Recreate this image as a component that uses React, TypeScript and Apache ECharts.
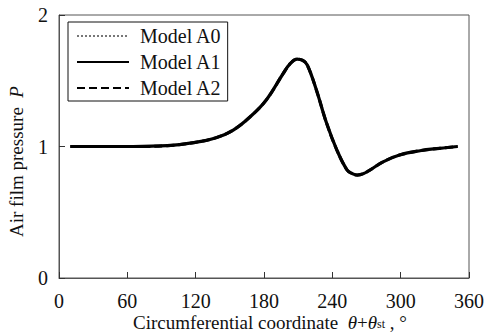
import React, { useEffect, useRef } from "react";
import * as echarts from "echarts";

const xTickValues = [0, 60, 120, 180, 240, 300, 360];
const yTickValues = [0, 1, 2];
const seriesNames = ["Model A0", "Model A1", "Model A2"];
const angleDeg = [10, 40, 65, 95, 118, 138, 153, 168, 182, 197, 203, 209, 214, 218, 226, 235, 244, 253, 258, 262, 267, 273, 285, 299, 317, 334, 350];
const pressureA0 = [1.0, 1.0, 1.0, 1.006, 1.029, 1.067, 1.125, 1.227, 1.354, 1.557, 1.63, 1.665, 1.655, 1.62, 1.43, 1.176, 0.973, 0.821, 0.792, 0.783, 0.792, 0.821, 0.885, 0.935, 0.968, 0.986, 1.0];
const pressureA1 = [1.0, 1.0, 1.0, 1.006, 1.029, 1.067, 1.125, 1.227, 1.354, 1.557, 1.63, 1.665, 1.655, 1.62, 1.43, 1.176, 0.973, 0.821, 0.792, 0.783, 0.792, 0.821, 0.885, 0.935, 0.968, 0.986, 1.0];
const pressureA2 = [1.0, 1.0, 1.0, 1.006, 1.029, 1.067, 1.125, 1.227, 1.354, 1.557, 1.63, 1.665, 1.655, 1.62, 1.43, 1.176, 0.973, 0.821, 0.792, 0.783, 0.792, 0.821, 0.885, 0.935, 0.968, 0.986, 1.0];

const FONT = "Liberation Serif";

export default function App() {
  const ref = useRef<HTMLDivElement>(null);
  useEffect(() => {
    document.body.style.margin = "0";
    const chart = echarts.init(ref.current!, null, { renderer: "svg" });
    const pairs = (ys: number[]) => angleDeg.map((x, i) => [x, ys[i]]);
    chart.setOption({
      animation: false,
      backgroundColor: "#fff",
      textStyle: { fontFamily: FONT, color: "#111" },
      grid: {
        left: 59, right: 15, top: 15, bottom: 54,
        outerBoundsMode: "none",
        containLabel: false,
        show: true, borderColor: "#555", borderWidth: 1,
      },
      legend: {
        left: 68,
        top: 22,
        orient: "vertical",
        data: seriesNames,
        borderColor: "#111",
        borderWidth: 1,
        padding: [4, 6, 3, 8],
        itemWidth: 52,
        itemHeight: 14,
        itemGap: 6,
        itemStyle: { opacity: 0, borderWidth: 0 },
        textStyle: { fontFamily: FONT, fontSize: 20, color: "#111", padding: [0, 0, 0, 6] },
      },
      xAxis: {
        type: "value",
        min: xTickValues[0],
        max: xTickValues[xTickValues.length - 1],
        interval: 60,
        axisLine: { show: true, lineStyle: { color: "#555", width: 1 } },
        axisTick: { inside: true, length: 6, lineStyle: { color: "#333" } },
        axisLabel: { fontFamily: FONT, fontSize: 20, lineHeight: 16, color: "#111", margin: 15 },
        splitLine: { show: false },
        name: "Circumferential coordinate  {i|θ}+{i|θ}{sub|st} , °",
        nameLocation: "middle",
        nameMoveOverlap: false,
        nameGap: 36,
        nameTextStyle: {
          fontFamily: FONT,
          fontSize: 19,
          lineHeight: 16,
          color: "#111",
          padding: [0, 0, 0, 12],
          rich: {
            i: { fontFamily: FONT, fontSize: 19, lineHeight: 16, fontStyle: "italic", color: "#111" },
            sub: { fontFamily: FONT, fontSize: 12, lineHeight: 16, color: "#111", verticalAlign: "bottom", padding: [3, 0, 0, 0] },
          },
        },
      },
      yAxis: {
        type: "value",
        min: yTickValues[0],
        max: yTickValues[yTickValues.length - 1],
        interval: 1,
        axisLine: { show: true, lineStyle: { color: "#555", width: 1 } },
        axisTick: { inside: true, length: 6, lineStyle: { color: "#333" } },
        axisLabel: { fontFamily: FONT, fontSize: 20, color: "#111", margin: 11 },
        splitLine: { show: false },
        name: "Air film pressure  {i|P}",
        nameLocation: "middle",
        nameMoveOverlap: false,
        nameGap: 33,
        nameTextStyle: {
          fontFamily: FONT,
          fontSize: 19,
          color: "#111",
          padding: [0, 30, 0, 0],
          rich: { i: { fontFamily: FONT, fontSize: 19, fontStyle: "italic", color: "#111" } },
        },
      },
      series: [
        {
          name: seriesNames[0],
          type: "line",
          data: pairs(pressureA0),
          smooth: 0.4,
          showSymbol: false,
          symbol: "none",
          lineStyle: { color: "#777", width: 2, type: "dotted" },
          itemStyle: { color: "#777" },
        },
        {
          name: seriesNames[1],
          type: "line",
          data: pairs(pressureA1),
          smooth: 0.4,
          showSymbol: false,
          symbol: "none",
          lineStyle: { color: "#000", width: 3.2, type: "solid" },
          itemStyle: { color: "#000" },
        },
        {
          name: seriesNames[2],
          type: "line",
          data: pairs(pressureA2),
          smooth: 0.4,
          showSymbol: false,
          symbol: "none",
          lineStyle: { color: "#000", width: 3, type: [8, 4] },
          itemStyle: { color: "#000" },
        },
      ],
    });
    return () => chart.dispose();
  }, []);
  return <div ref={ref} style={{ width: 484, height: 332 }} />;
}
